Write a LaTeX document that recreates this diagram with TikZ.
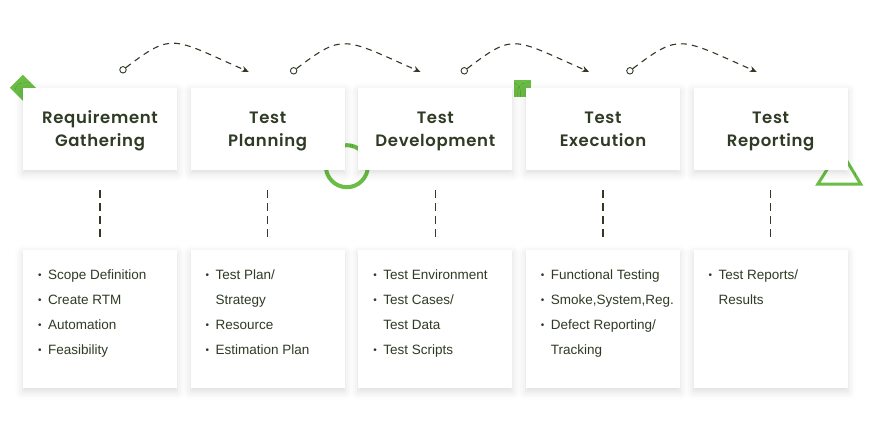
\documentclass[tikz,border=0pt]{standalone}
\usepackage{fontspec}
\setmainfont{Liberation Sans}
\newfontfamily\titlefont{Poppins SemiBold}[LetterSpace=4]
\usepackage{tikz}
\usetikzlibrary{positioning,calc,arrows.meta,shadows.blur,backgrounds}
\definecolor{leaf}{HTML}{6ABD45}
\definecolor{ink}{HTML}{2F3B24}
\newcommand{\bul}{\makebox[10pt][l]{\fontsize{10}{10}\selectfont\raisebox{0.5pt}{\textbullet}}}
\newcommand{\cont}{\hspace*{10pt}}
\newcommand{\stagename}[2]{\rule{0pt}{19pt}#1\\#2\rule[-6pt]{0pt}{6pt}}

\begin{document}
\begin{tikzpicture}[x=1pt, y=1pt, node distance=13.25pt,
    boxshadow/.style={blur shadow={shadow xshift=0pt, shadow yshift=-3pt, shadow blur radius=8pt, shadow opacity=14}},
    stage/.style={rectangle, fill=white, minimum width=154pt, minimum height=82pt, inner sep=0pt, align=center, text=ink, font=\titlefont\fontsize{16.5}{23}\selectfont, boxshadow},
    tasks/.style={rectangle, fill=white, minimum width=154pt, minimum height=138pt, inner sep=0pt, boxshadow},
    items/.style={anchor=north west, inner sep=0pt, align=left, text=ink, font=\fontsize{13.5}{25}\selectfont},
    link/.style={draw=ink, line width=1.1pt, dash pattern=on 8pt off 5pt, shorten <=20pt, shorten >=12pt},
    flow/.style={draw=ink, line width=1.1pt, dash pattern=on 6pt off 5pt, -{Stealth[length=7pt,width=6pt]}},
    dot/.style={circle, draw=ink, fill=white, line width=0.9pt, inner sep=0pt, minimum size=6.5pt}]

    \useasboundingbox (0,0) rectangle (880,433);

    % stages
    \node[stage] (req) at (100,304) {\stagename{Requirement}{Gathering}};
    \node[stage] (plan) [right=of req] {\stagename{Test}{Planning}};
    \node[stage] (dev) [right=of plan] {\stagename{Test}{Development}};
    \node[stage] (exec) [right=of dev] {\stagename{Test}{Execution}};
    \node[stage] (rep) [right=of exec] {\stagename{Test}{Reporting}};

    % task boxes
    \node[tasks] (reqlist) [below=80pt of req] {};
    \node[tasks] (planlist) [below=80pt of plan] {};
    \node[tasks] (devlist) [below=80pt of dev] {};
    \node[tasks] (execlist) [below=80pt of exec] {};
    \node[tasks] (replist) [below=80pt of rep] {};

    \node[items] (reqtext) at ($(reqlist.north west)+(15,-19)$) {\bul Scope Definition\\\bul Create RTM\\\bul Automation\\\bul Feasibility};
    \node[items] (plantext) at ($(planlist.north west)+(15,-19)$) {\bul Test Plan/\\\cont Strategy\\\bul Resource\\\bul Estimation Plan};
    \node[items] (devtext) at ($(devlist.north west)+(15,-19)$) {\bul Test Environment\\\bul Test Cases/\\\cont Test Data\\\bul Test Scripts};
    \node[items] (exectext) at ($(execlist.north west)+(15,-19)$) {\bul Functional Testing\\\bul Smoke,System,Reg.\\\bul Defect Reporting/\\\cont Tracking};
    \node[items] (reptext) at ($(replist.north west)+(15,-19)$) {\bul Test Reports/\\\cont Results};

    % dashed links down
    \draw[link] (req) -- (reqlist);
    \draw[link] (plan) -- (planlist);
    \draw[link] (dev) -- (devlist);
    \draw[link] (exec) -- (execlist);
    \draw[link] (rep) -- (replist);

    % arcs between stages
    \node[dot] (d1) at ($(req.north)+(23,18)$) {};
    \node[dot] (d2) at ($(plan.north)+(26,17)$) {};
    \node[dot] (d3) at ($(dev.north)+(29,17)$) {};
    \node[dot] (d4) at ($(exec.north)+(27,17)$) {};
    \coordinate (t1) at ($(plan.north)+(-19,16)$);
    \coordinate (t2) at ($(dev.north)+(-15,16)$);
    \coordinate (t3) at ($(exec.north)+(-14,16)$);
    \coordinate (t4) at ($(rep.north)+(-14,16)$);
    \draw[flow] (d1) .. controls +(50,38) and +(-77,34) .. (t1);
    \draw[flow] (d2) .. controls +(50,38) and +(-77,34) .. (t2);
    \draw[flow] (d3) .. controls +(50,38) and +(-77,34) .. (t3);
    \draw[flow] (d4) .. controls +(50,38) and +(-77,34) .. (t4);

    % green shapes behind the boxes
    \begin{scope}[on background layer]
        \fill[leaf] ($(req.north west)+(-13,0)$) -- ++(13,13) -- ++(13,-13) -- ++(-13,-13) -- cycle;
        \draw[leaf, line width=4pt] ($(plan.south east)+(2,4)$) circle (21pt);
        \fill[leaf] ($(exec.north west)+(-12,8)$) rectangle ++(17,-17);
        \draw[leaf, line width=3pt, line join=miter] ($(rep.south east)+(-30,-14)$) -- ++(43,0) -- ++(-21,35) -- cycle;
    \end{scope}
\end{tikzpicture}
\end{document}
